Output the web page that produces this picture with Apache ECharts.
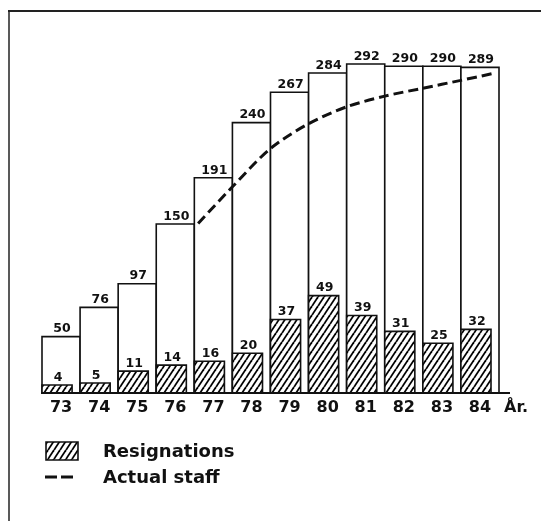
<!DOCTYPE html>
<html>
<head>
<meta charset="utf-8">
<script src="https://cdn.jsdelivr.net/npm/echarts@6/dist/echarts.min.js"></script>
<style>
  html, body { margin: 0; padding: 0; background: #fff; }
  #chart { width: 541px; height: 521px; }
</style>
</head>
<body>
<div id="chart"></div>
<script>
// Staff per year: total positions, resignations, and the actual-staff trend
const years = ['73', '74', '75', '76', '77', '78', '79', '80', '81', '82', '83', '84'];
const totalStaff = [50, 76, 97, 150, 191, 240, 267, 284, 292, 290, 290, 289];
const resignations = [4, 5, 11, 14, 16, 20, 37, 49, 39, 31, 25, 32];
// Actual staff curve (x in years, bar centres at whole years)
const actualStaffX = [76.6, 77.5, 78.5, 79.5, 80.5, 81.5, 82.5, 83.5, 84.4];
const actualStaffY = [150.5, 183, 217, 239, 254, 263.5, 270.5, 277.5, 284];

const FONT = '"DejaVu Sans", "Liberation Sans", Arial, sans-serif';
const INK = '#111';

// Grid geometry
const GRID_LEFT = 42, GRID_RIGHT = 42, GRID_TOP = 55, GRID_BOTTOM = 128;
const CHART_W = 541, CHART_H = 521;
const BASE_Y = CHART_H - GRID_BOTTOM;

// Diagonal hatch tile for the resignation bars
function makeHatch() {
  const w = 6, h = 9;
  const c = document.createElement('canvas');
  c.width = w; c.height = h;
  const ctx = c.getContext('2d');
  ctx.fillStyle = '#fff';
  ctx.fillRect(0, 0, w, h);
  ctx.strokeStyle = '#000';
  ctx.lineWidth = 1.8;
  for (let k = -1; k <= 1; k++) {
    ctx.beginPath();
    ctx.moveTo(k * w, h);
    ctx.lineTo(k * w + w, 0);
    ctx.stroke();
  }
  return c;
}
const hatch = { image: makeHatch(), repeat: 'repeat' };

const chart = echarts.init(document.getElementById('chart'), null, { renderer: 'canvas' });

function totalBar(params, api) {
  const i = api.value(0), v = api.value(1);
  const top = api.coord([i, v]);
  const base = api.coord([i, 0]);
  const bw = api.size([1, 0])[0];
  const x0 = top[0] - bw / 2;
  return {
    type: 'group',
    children: [
      { type: 'rect', shape: { x: x0, y: top[1], width: bw, height: base[1] - top[1] },
        style: { fill: '#fff', stroke: INK, lineWidth: 1.6 } },
      { type: 'text', style: { text: String(v), x: top[0] + 1, y: top[1] - 1,
        align: 'center', verticalAlign: 'bottom', font: 'bold 12.5px ' + FONT, fill: INK } }
    ]
  };
}

function resignBar(params, api) {
  const i = api.value(0), v = api.value(1);
  const top = api.coord([i, v]);
  const base = api.coord([i, 0]);
  const bw = api.size([1, 0])[0];
  const x0 = top[0] - bw / 2;
  const w = bw * 0.79;
  return {
    type: 'group',
    children: [
      { type: 'rect', shape: { x: x0, y: top[1], width: w, height: base[1] - top[1] },
        style: { fill: hatch, stroke: INK, lineWidth: 1.6 } },
      { type: 'text', style: { text: String(v), x: x0 + w / 2 + 1, y: top[1] - 1,
        align: 'center', verticalAlign: 'bottom', font: 'bold 12.5px ' + FONT, fill: INK } }
    ]
  };
}

const option = {
  backgroundColor: '#fff',
  animation: false,
  grid: { left: GRID_LEFT, right: GRID_RIGHT, top: GRID_TOP, bottom: GRID_BOTTOM },
  xAxis: [
    {
      type: 'category', data: years, boundaryGap: true,
      axisLine: { show: false }, axisTick: { show: false }, splitLine: { show: false },
      axisLabel: { color: INK, fontFamily: FONT, fontWeight: 'bold', fontSize: 16, margin: 7 }
    },
    {
      type: 'value', min: 72.5, max: 84.5, show: false
    }
  ],
  yAxis: [
    { type: 'value', min: 0, max: 300, show: false },
    { type: 'value', min: 0, max: 170, show: false }
  ],
  series: [
    {
      name: 'Total', type: 'custom', xAxisIndex: 0, yAxisIndex: 0, z: 1,
      renderItem: totalBar,
      encode: { x: 0, y: 1 },
      data: totalStaff.map((v, i) => [i, v])
    },
    {
      name: 'Resignations', type: 'custom', xAxisIndex: 0, yAxisIndex: 1, z: 2,
      renderItem: resignBar,
      encode: { x: 0, y: 1 },
      data: resignations.map((v, i) => [i, v])
    },
    {
      name: 'Actual staff', type: 'line', xAxisIndex: 1, yAxisIndex: 0, z: 3,
      smooth: 0.3, symbol: 'none',
      lineStyle: { color: INK, width: 3, type: [10, 5], cap: 'butt' },
      data: actualStaffX.map((x, i) => [x, actualStaffY[i]])
    }
  ],
  graphic: [
    // frame
    { type: 'line', shape: { x1: 8, y1: 11, x2: CHART_W, y2: 11 },
      style: { stroke: '#222', lineWidth: 2 }, z: 10 },
    { type: 'line', shape: { x1: 9, y1: 11, x2: 9, y2: CHART_H },
      style: { stroke: '#222', lineWidth: 1.5 }, z: 10 },
    // baseline
    { type: 'line', shape: { x1: GRID_LEFT - 1, y1: BASE_Y, x2: 510, y2: BASE_Y },
      style: { stroke: INK, lineWidth: 2 }, z: 10 },
    { type: 'text', x: 504, y: 408,
      style: { text: 'År.', font: 'bold 16px ' + FONT, fill: INK, verticalAlign: 'middle' }, z: 10 },
    // legend
    { type: 'rect', shape: { x: 46, y: 442, width: 32, height: 18 },
      style: { fill: hatch, stroke: INK, lineWidth: 1.6 }, z: 10 },
    { type: 'text', x: 103, y: 452,
      style: { text: 'Resignations', font: 'bold 18px ' + FONT, fill: INK, verticalAlign: 'middle' }, z: 10 },
    { type: 'line', shape: { x1: 45, y1: 477, x2: 74, y2: 477 },
      style: { stroke: INK, lineWidth: 3, lineDash: [12, 4] }, z: 10 },
    { type: 'text', x: 103, y: 478,
      style: { text: 'Actual staff', font: 'bold 18px ' + FONT, fill: INK, verticalAlign: 'middle' }, z: 10 }
  ]
};

chart.setOption(option);
</script>
</body>
</html>
